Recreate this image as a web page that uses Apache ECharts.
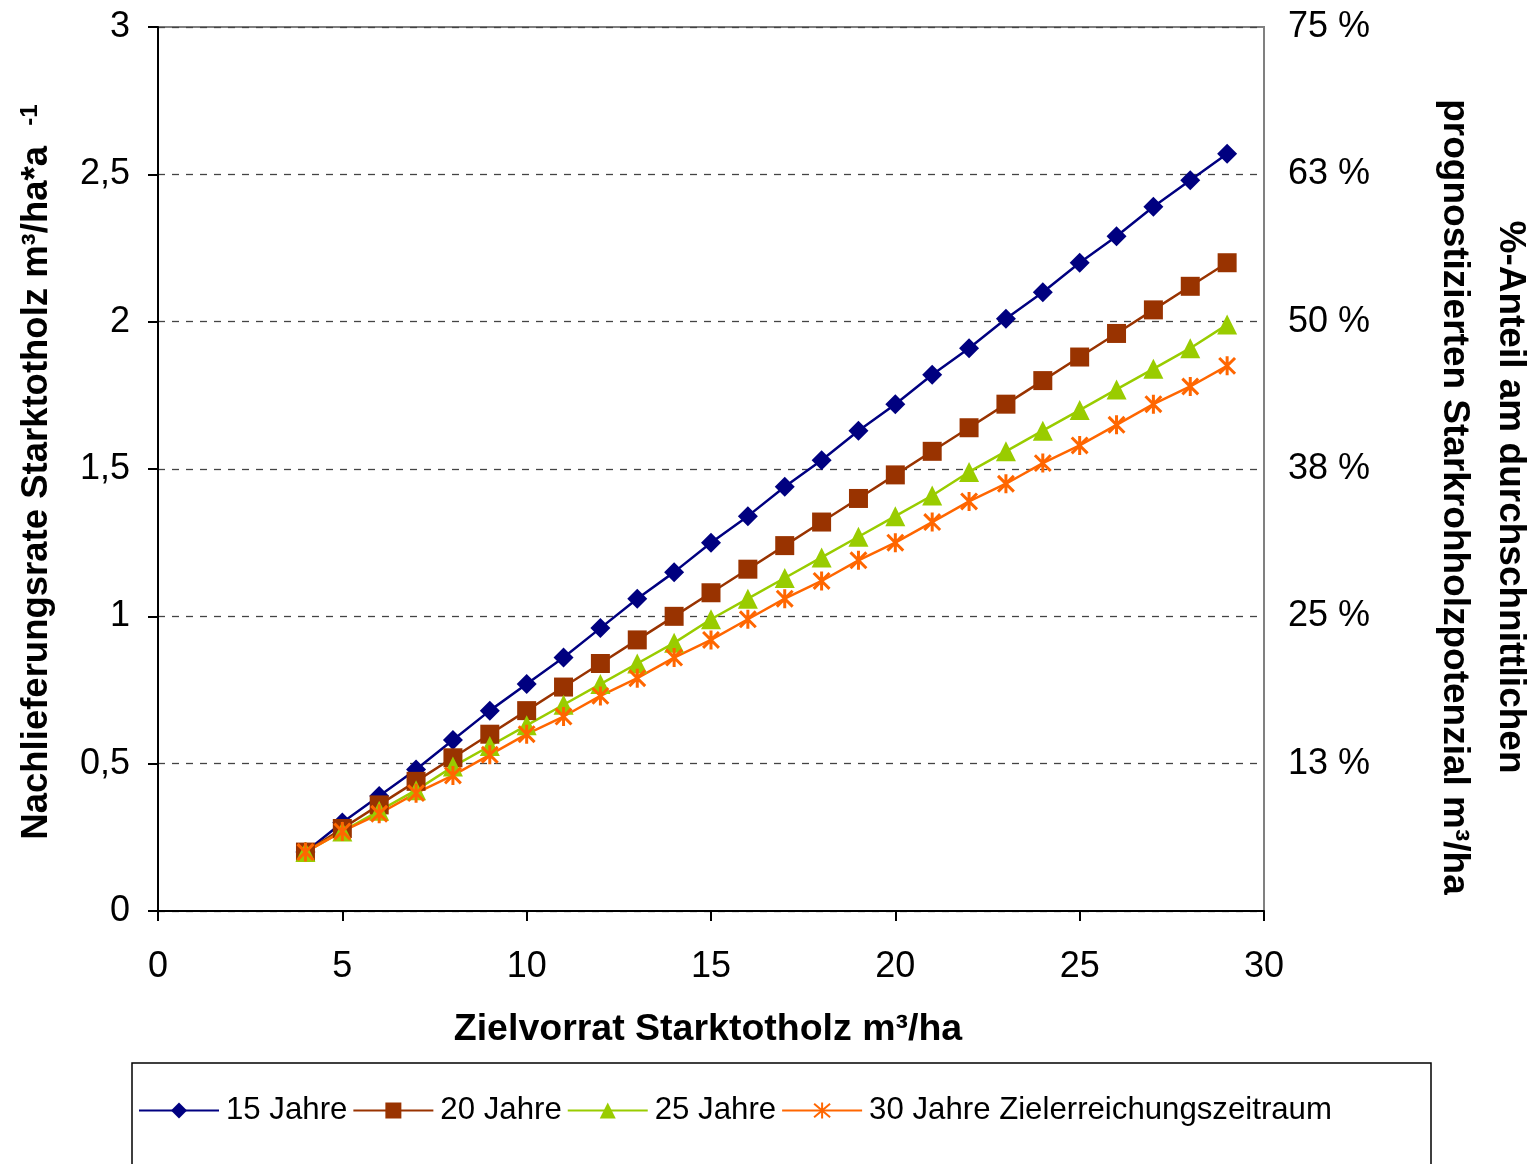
<!DOCTYPE html>
<html>
<head>
<meta charset="utf-8">
<script src="https://cdn.jsdelivr.net/npm/echarts@6/dist/echarts.min.js"></script>
<style>html,body{margin:0;padding:0;background:#fff}#c{width:1533px;height:1164px}</style>
</head>
<body>
<div id="c"></div>
<script>
const xValues = [4,5,6,7,8,9,10,11,12,13,14,15,16,17,18,19,20,21,22,23,24,25,26,27,28,29];
const s15 = [0.20,0.30,0.39,0.48,0.58,0.68,0.77,0.86,0.96,1.06,1.15,1.25,1.34,1.44,1.53,1.63,1.72,1.82,1.91,2.01,2.10,2.20,2.29,2.39,2.48,2.57];
const s20 = [0.20,0.28,0.36,0.44,0.52,0.60,0.68,0.76,0.84,0.92,1.00,1.08,1.16,1.24,1.32,1.40,1.48,1.56,1.64,1.72,1.80,1.88,1.96,2.04,2.12,2.20];
const s25 = [0.20,0.27,0.34,0.41,0.49,0.56,0.63,0.70,0.77,0.84,0.91,0.99,1.06,1.13,1.20,1.27,1.34,1.41,1.49,1.56,1.63,1.70,1.77,1.84,1.91,1.99];
const s30 = [0.20,0.27,0.33,0.40,0.46,0.53,0.60,0.66,0.73,0.79,0.86,0.92,0.99,1.06,1.12,1.19,1.25,1.32,1.39,1.45,1.52,1.58,1.65,1.72,1.78,1.85];
const seriesNames = ['15 Jahre','20 Jahre','25 Jahre','30 Jahre Zielerreichungszeitraum'];
const leftTickLabels = ['0','0,5','1','1,5','2','2,5','3'];
const rightTickLabels = ['','13 %','25 %','38 %','50 %','63 %','75 %'];

const FONT = '"Liberation Sans", Arial, sans-serif';
const asterisk = 'path://M0,0L10,10M10,0L0,10M5,-1L5,11';
function pairs(ys){ return xValues.map((x,i)=>[x, ys[i]]); }

const chart = echarts.init(document.getElementById('c'), null, {renderer:'canvas'});
const idx = v => Math.round(v/0.5);
chart.setOption({
  animation:false,
  backgroundColor:'#fff',
  textStyle:{fontFamily:FONT},
  grid:{left:158, right:269, top:27, bottom:253, show:true, borderColor:'#808080', borderWidth:2, backgroundColor:'transparent'},
  xAxis:{type:'value', min:0, max:30, interval:5,
    axisLine:{lineStyle:{color:'#000', width:2}},
    axisTick:{show:true, length:10, lineStyle:{color:'#000', width:2}},
    axisLabel:{fontSize:36, color:'#000', margin:38, fontFamily:FONT},
    splitLine:{show:false}},
  yAxis:[{type:'value', min:0, max:3, interval:0.5,
    axisLine:{show:true, lineStyle:{color:'#000', width:2}},
    axisTick:{show:true, length:10, lineStyle:{color:'#000', width:2}},
    axisLabel:{fontSize:36, color:'#000', margin:28, fontFamily:FONT, formatter:v=>leftTickLabels[idx(v)]},
    splitLine:{show:true, lineStyle:{color:'#444', type:[7,7], width:1.3}}},
   {type:'value', min:0, max:3, interval:0.5, position:'right',
    axisLine:{show:false}, axisTick:{show:false},
    axisLabel:{fontSize:36, color:'#000', margin:24, align:'left', fontFamily:FONT, formatter:v=>rightTickLabels[idx(v)]},
    splitLine:{show:false}}],
  legend:{left:133, top:1090, itemWidth:80, itemHeight:20, itemGap:5,
    textStyle:{fontSize:31.2, color:'#000', fontFamily:FONT, padding:[0,0,0,2]},
    data:seriesNames},
  graphic:[
    {type:'rect', shape:{x:132, y:1063, width:1299, height:110}, style:{fill:'none', stroke:'#000', lineWidth:1.5}, z:-1},
    {type:'text', x:37, y:472, rotation:Math.PI/2,
      style:{text:'{m|Nachlieferungsrate Starktotholz m³/ha*a  }{s|-1}', align:'center', verticalAlign:'middle',
        rich:{m:{fontSize:36.5, fontWeight:'bold', fontFamily:FONT, fill:'#000'}, s:{fontSize:24, fontWeight:'bold', fontFamily:FONT, verticalAlign:'top', fill:'#000'}}}},
    {type:'text', x:708, y:1030,
      style:{text:'Zielvorrat Starktotholz m³/ha', align:'center', verticalAlign:'middle', fontSize:37.5, fontWeight:'bold', fontFamily:FONT, fill:'#000'}},
    {type:'text', x:1482, y:497, rotation:-Math.PI/2,
      style:{text:'%-Anteil am durchschnittlichen\nprognostizierten Starkrohholzpotenzial m³/ha', align:'center', verticalAlign:'middle', lineHeight:56, fontSize:37, fontWeight:'bold', fontFamily:FONT, fill:'#000'}}
  ],
  series:[
    {name:seriesNames[0], type:'line', data:pairs(s15), symbol:'diamond', symbolSize:20, lineStyle:{color:'#000080', width:2.5}, itemStyle:{color:'#000080'}},
    {name:seriesNames[1], type:'line', data:pairs(s20), symbol:'rect', symbolSize:19, lineStyle:{color:'#993300', width:2.5}, itemStyle:{color:'#993300'}},
    {name:seriesNames[2], type:'line', data:pairs(s25), symbol:'triangle', symbolSize:20, lineStyle:{color:'#99CC00', width:2.5}, itemStyle:{color:'#99CC00'}},
    {name:seriesNames[3], type:'line', data:pairs(s30), symbol:asterisk, symbolSize:19, symbolKeepAspect:true, lineStyle:{color:'#FF6600', width:2.5}, itemStyle:{color:'none', borderColor:'#FF6600', borderWidth:3}}
  ]
});
</script>
</body>
</html>
